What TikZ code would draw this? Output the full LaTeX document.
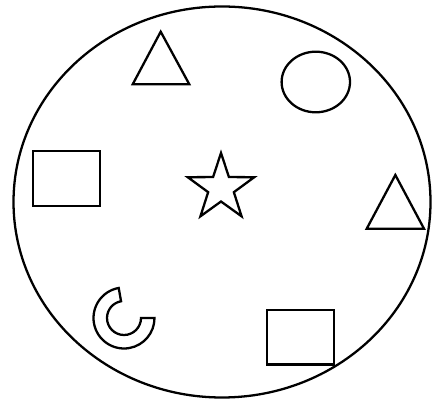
\documentclass[tikz,border=0pt]{standalone}
\usepackage{tikz}
\usetikzlibrary{shapes.geometric}

\begin{document}
\begin{tikzpicture}[
    outline/.style={draw, line width=1.3pt, line join=miter},
    box/.style={outline, rectangle, minimum width=1.334cm, minimum height=1.094cm, inner sep=0pt},
    oval/.style={outline, ellipse, inner sep=0pt},
]
\useasboundingbox (0,0) rectangle (8.64,8);

% Frame
\node[oval, minimum width=8.34cm, minimum height=7.82cm] (frame) at (4.44, 3.96) {};

% Shapes
\node[oval, minimum width=1.368cm, minimum height=1.212cm] (circ) at (6.316, 6.36) {};
\node[box] (boxL) at (1.333, 4.433) {};
\node[box] (boxB) at (6.013, 1.257) {};

\draw[outline] (3.214, 7.366) -- (2.654, 6.314) -- (3.786, 6.314) -- cycle;
\draw[outline] (7.907, 4.5) -- (7.334, 3.426) -- (8.48, 3.426) -- cycle;

% Star
\draw[outline, shift={(4.42, 4.24)}] (90:0.7)
  \foreach \a in {0,72,...,288} { -- (\a+90:0.7) -- (\a+126:0.27) } -- cycle;

% Broken ring
\draw[outline, shift={(2.48, 1.64)}] (100:0.61) arc (100:360:0.61)
  -- (0:0.34) arc (360:100:0.34) -- cycle;

\end{tikzpicture}
\end{document}
